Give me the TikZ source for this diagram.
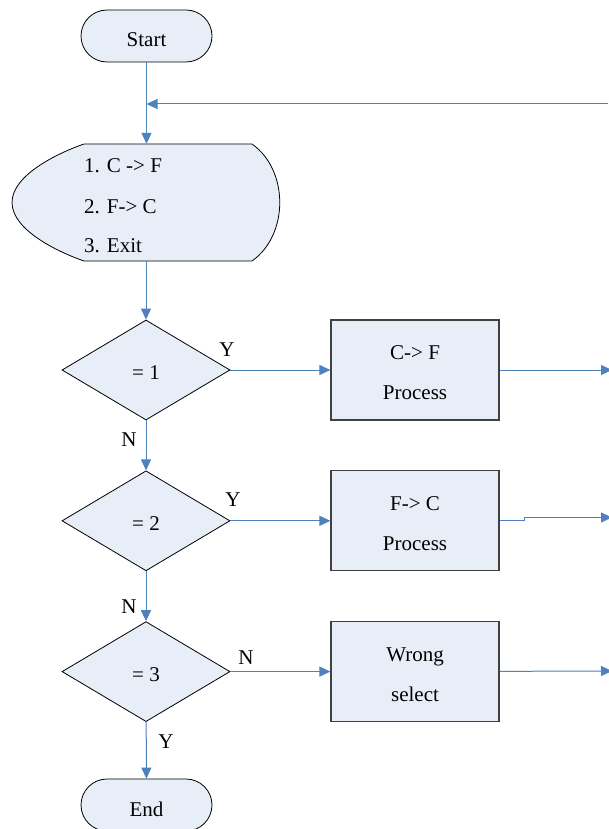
\documentclass[tikz,border=0pt]{standalone}
\usepackage{fontspec}
\setmainfont{Liberation Serif}
\usetikzlibrary{positioning, arrows.meta, shapes.geometric}
\definecolor{flowblue}{RGB}{79,129,189}
\definecolor{boxfill}{RGB}{232,238,248}
\definecolor{boxline}{RGB}{64,64,64}

\begin{document}
\begin{tikzpicture}[x=1pt, y=-1pt, node distance=50pt,
	every node/.style={font=\fontsize{21}{25}\selectfont},
	term/.style={draw=black, line width=0.8pt, fill=boxfill, rounded corners=26pt, minimum width=131pt, minimum height=52pt, inner sep=0pt, text height=22pt, text depth=0pt},
	cond/.style={draw=black, line width=0.8pt, fill=boxfill, diamond, minimum width=168pt, minimum height=100pt, inner sep=0pt, text height=19pt, text depth=0pt},
	proc/.style={draw=boxline, line width=1.3pt, fill=boxfill, rectangle, minimum width=168pt, minimum height=100pt, align=center, font=\fontsize{21}{40}\selectfont},
	flow/.style={draw=flowblue, line width=1pt, -{Triangle[length=11pt, width=10pt]}}]
	\useasboundingbox (0,0) rectangle (608,829);
	% menu %
	\filldraw[fill=boxfill, draw=black, line width=0.8pt] (84,144) -- (252,144)
		.. controls (289,170) and (289,235) .. (252,261) -- (84,261)
		.. controls (58,252) and (12,230) .. (12,202.5)
		.. controls (12,175) and (58,153) .. (84,144) -- cycle;
	% nodos %
	\node[term] (start) at (146.5,36) {Start};
	\node[minimum width=268pt, minimum height=117pt, inner sep=0pt] (menu) at (146,202.5) {};
	\node[anchor=base west, inner sep=0pt] (m1) at (84,173) {1. C -> F};
	\node[anchor=base west, inner sep=0pt] (m2) at (84,213) {2. F-> C};
	\node[anchor=base west, inner sep=0pt] (m3) at (84,252) {3. Exit};
	\node[cond] (d1) at (146,370) {= 1};
	\node[cond, below=of d1] (d2) {= 2};
	\node[cond, below=of d2] (d3) {= 3};
	\node[proc, right=100pt of d1] (b1) {\rule{0pt}{20pt}C-> F\\Process};
	\node[proc, right=100pt of d2] (b2) {\rule{0pt}{20pt}F-> C\\Process};
	\node[proc, right=100pt of d3] (b3) {\rule{0pt}{20pt}Wrong\\select};
	\node[term] (stop) at (146.5,805) {End};
	\coordinate (back) at (608,104);
	\coordinate (o1) at (612,370);
	\coordinate (o2) at (612,517.5);
	\coordinate (o3) at (612,671);
	% etiquetas %
	\node (y1) at (227,350) {Y};
	\node (n1) at (129,440) {N};
	\node (y2) at (233,500) {Y};
	\node (n2) at (129,607) {N};
	\node (n3) at (246,658) {N};
	\node (y3) at (166,742) {Y};
	% conexiones %
	\draw[flow] (start) -- (start |- menu.north);
	\draw[flow] (back) -- (start |- back);
	\draw[flow] (menu.south) -- (d1);
	\draw[flow] (d1) -- (d2);
	\draw[flow] (d2) -- (d3);
	\draw[flow] (d3) -- (stop);
	\draw[flow] (d1) -- (b1);
	\draw[flow] (d2) -- (b2);
	\draw[flow] (d3) -- (b3);
	\draw[flow] (b1) -- (o1);
	\draw[flow] (b2.east) -- ++(25,0) |- (o2);
	\draw[flow] (b3) -- (o3);
\end{tikzpicture}
\end{document}
